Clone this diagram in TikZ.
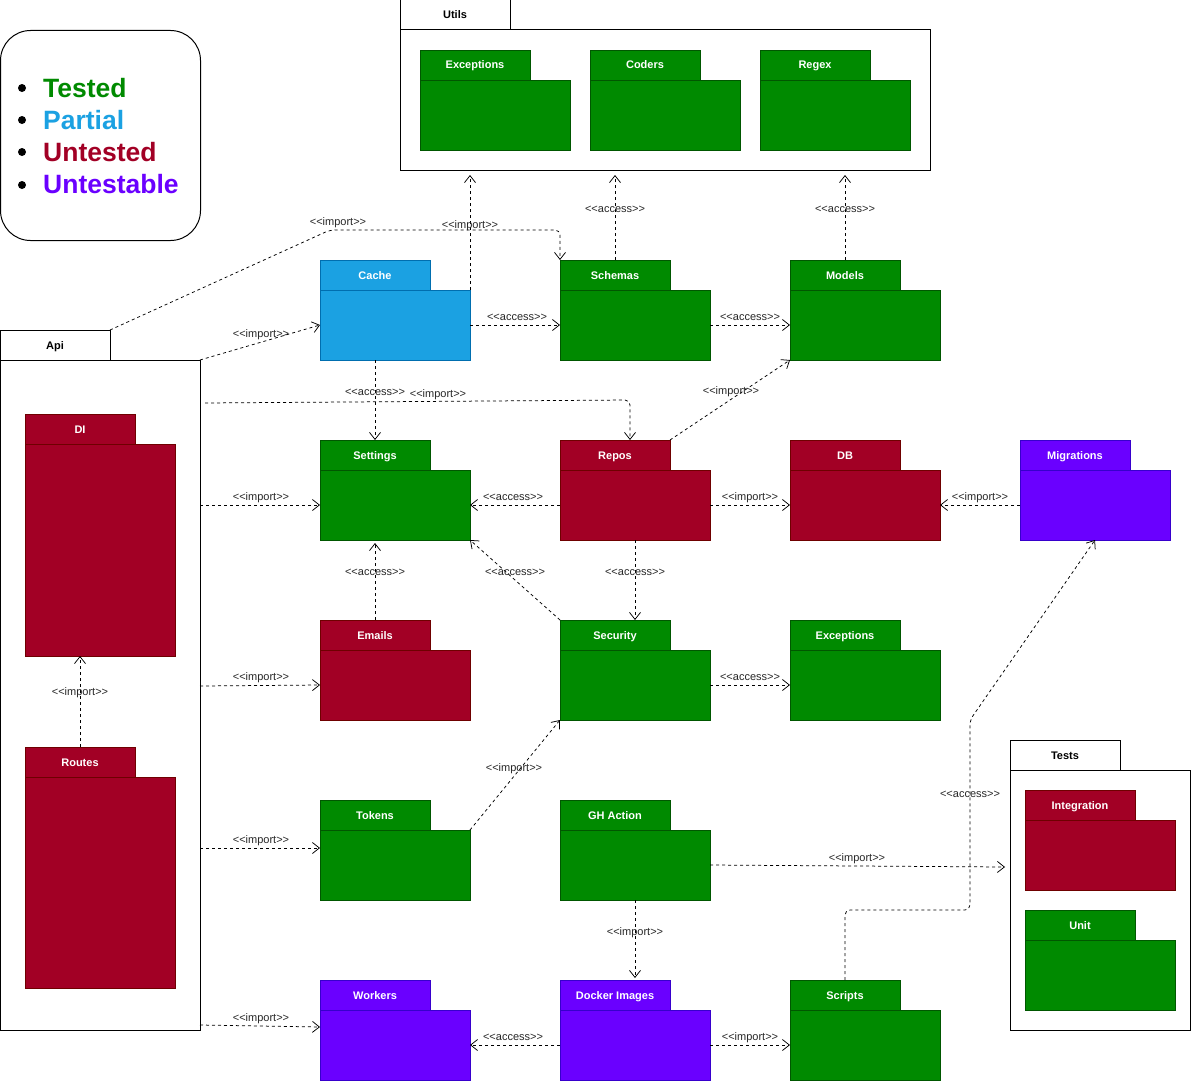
\documentclass[tikz,border=0pt]{standalone}
\usepackage{fontspec}
\setmainfont{Liberation Sans}
\usetikzlibrary{arrows.meta,calc}
\definecolor{gfill}{HTML}{008A00}\definecolor{gline}{HTML}{005700}
\definecolor{rfill}{HTML}{A20025}\definecolor{rline}{HTML}{6F0000}
\definecolor{bfill}{HTML}{1BA1E2}\definecolor{bline}{HTML}{006EAF}
\definecolor{pfill}{HTML}{6A00FF}\definecolor{pline}{HTML}{3700CC}
\tikzset{
  pkgbase/.style={anchor=north west, inner sep=0pt, outer sep=0pt, line width=0.8pt},
  pkgtab/.style={pkgbase, minimum width=110pt, minimum height=30pt, text height=8pt, text depth=0pt, font=\bfseries\fontsize{11}{13}\selectfont},
  pkgbody/.style={pkgbase},
  tested/.style={draw=gline, fill=gfill, text=white},
  partial/.style={draw=bline, fill=bfill, text=white},
  untested/.style={draw=rline, fill=rfill, text=white},
  untestable/.style={draw=pline, fill=pfill, text=white},
  container/.style={draw=black, fill=white, text=black, line width=1pt},
  dep/.style={draw=black, line width=0.75pt, dash pattern=on 3pt off 3pt,
    -{Straight Barb[length=7pt,width=11pt]}, rounded corners=5pt},
  lbl/.style={font=\fontsize{11}{13}\selectfont, text=black!85, inner sep=0pt, yshift=-1.5pt},
  legtxt/.style={anchor=base west, inner sep=0pt, font=\bfseries\fontsize{26.5}{32}\selectfont}
}
\newcommand{\pkg}[7]{%
  \node[pkgtab,#1] (#2T) at (#3,#4) {#5};
  \node[pkgbody,#1,minimum width=#6pt,minimum height=#7pt] (#2) at (#3,#4+30) {};
}
\newcommand{\imptxt}{<{}<import>{}>}
\newcommand{\acctxt}{<{}<access>{}>}
\begin{document}
\begin{tikzpicture}[x=1pt,y=-1pt]
\useasboundingbox (0,0) rectangle (1191,1081);
% legend
\node[draw=black, line width=1pt, rounded corners=30pt, anchor=north west,
  minimum width=200pt, minimum height=210pt, inner sep=0pt] (legend) at (0,30) {};
\fill (22,88) circle (4pt);
\fill (22,120) circle (4pt);
\fill (22,152) circle (4pt);
\fill (22,185) circle (4pt);
\node[legtxt, text=gfill] (lgT) at (43,97) {Tested};
\node[legtxt, text=bfill] (lgP) at (43,129) {Partial};
\node[legtxt, text=rfill] (lgU) at (43,161) {Untested};
\node[legtxt, text=pfill] (lgX) at (43,193) {Untestable};
% packages
\pkg{container}{utils}{400}{0}{Utils}{530}{140}
\pkg{tested}{exc}{420}{50}{Exceptions}{150}{70}
\pkg{tested}{coders}{590}{50}{Coders}{150}{70}
\pkg{tested}{regex}{760}{50}{Regex}{150}{70}
\pkg{container}{api}{0}{330}{Api}{200}{670}
\pkg{untested}{di}{25}{414}{DI}{150}{212}
\pkg{untested}{routes}{25}{747}{Routes}{150}{211}
\pkg{partial}{cache}{320}{260}{Cache}{150}{70}
\pkg{tested}{schemas}{560}{260}{Schemas}{150}{70}
\pkg{tested}{models}{790}{260}{Models}{150}{70}
\pkg{tested}{settings}{320}{440}{Settings}{150}{70}
\pkg{untested}{repos}{560}{440}{Repos}{150}{70}
\pkg{untested}{db}{790}{440}{DB}{150}{70}
\pkg{untestable}{migr}{1020}{440}{Migrations}{150}{70}
\pkg{untested}{emails}{320}{620}{Emails}{150}{70}
\pkg{tested}{security}{560}{620}{Security}{150}{70}
\pkg{tested}{excb}{790}{620}{Exceptions}{150}{70}
\pkg{tested}{tokens}{320}{800}{Tokens}{150}{70}
\pkg{tested}{gha}{560}{800}{GH Action}{150}{70}
\pkg{container}{tests}{1010}{740}{Tests}{180}{260}
\pkg{untested}{integ}{1025}{790}{Integration}{150}{70}
\pkg{tested}{unit}{1025}{910}{Unit}{150}{70}
\pkg{untestable}{workers}{320}{980}{Workers}{150}{70}
\pkg{untestable}{docker}{560}{980}{Docker Images}{150}{70}
\pkg{tested}{scripts}{790}{980}{Scripts}{150}{70}
\coordinate (testsIn) at (1005,867);
% connectors
\draw[dep] (apiT.north east) -- (330,230) -- (560,230) -- (schemasT.north west);
\draw[dep] (api.north east) -- (cache.west);
\draw[dep] (cache.north east) -- ([xshift=-195pt,yshift=-5pt]utils.south);
\draw[dep] (cache.east) -- (schemas.west);
\draw[dep] (schemasT.north) -- ([xshift=-50pt,yshift=-5pt]utils.south);
\draw[dep] (modelsT.north) -- ([xshift=180pt,yshift=-5pt]utils.south);
\draw[dep] (schemas.east) -- (models.west);
\draw[dep] ([xshift=-20pt]cache.south) -- (settingsT.north);
\draw[dep] ([xshift=5pt,yshift=292pt]api.east) -- (630,400) -- ([xshift=15pt]reposT.north);
\draw[dep] (reposT.north east) -- (models.south west);
\draw[dep] ([yshift=190pt]api.east) -- (settings.west);
\draw[dep] (repos.west) -- (settings.east);
\draw[dep] (repos.east) -- (db.west);
\draw[dep] (migr.west) -- (db.east);
\draw[dep] (emailsT.north) -- ([xshift=-20pt,yshift=-3pt]settings.south);
\draw[dep] (securityT.north west) -- (settings.south east);
\draw[dep] (repos.south) -- ([xshift=20pt]securityT.north);
\draw[dep] (security.east) -- (excb.west);
\draw[dep] ([yshift=9pt]api.east) -- (emails.west);
\draw[dep] (routesT.north) -- ([xshift=-20pt]di.south);
\draw[dep] (tokens.north east) -- (security.south west);
\draw[dep] ([yshift=-153pt]api.east) -- ([yshift=17pt]tokens.west);
\draw[dep] (gha.east) -- (testsIn);
\draw[dep] (gha.south) -- ([xshift=20pt,yshift=2pt]dockerT.north);
\draw[dep] ([yshift=5pt]api.south east) -- ([yshift=18pt]workers.west);
\draw[dep] (docker.west) -- (workers.east);
\draw[dep] (docker.east) -- (scripts.west);
\draw[dep] (scriptsT.north) -- (845,910) -- (970,910) -- (970,720) -- (migr.south);
% labels
\node[lbl] (t1) at (338,221) {\imptxt};
\node[lbl] (t2) at (470,224) {\imptxt};
\node[lbl] (t3) at (615,208) {\acctxt};
\node[lbl] (t4) at (845,208) {\acctxt};
\node[lbl] (t5) at (261,333) {\imptxt};
\node[lbl] (t6) at (517,316) {\acctxt};
\node[lbl] (t7) at (750,316) {\acctxt};
\node[lbl] (t8) at (375,391) {\acctxt};
\node[lbl] (t9) at (438,393) {\imptxt};
\node[lbl] (t10) at (731,390) {\imptxt};
\node[lbl] (t11) at (261,496) {\imptxt};
\node[lbl] (t12) at (513,496) {\acctxt};
\node[lbl] (t13) at (750,496) {\imptxt};
\node[lbl] (t14) at (980,496) {\imptxt};
\node[lbl] (t15) at (375,571) {\acctxt};
\node[lbl] (t16) at (515,571) {\acctxt};
\node[lbl] (t17) at (635,571) {\acctxt};
\node[lbl] (t18) at (261,676) {\imptxt};
\node[lbl] (t19) at (750,676) {\acctxt};
\node[lbl] (t20) at (80,691) {\imptxt};
\node[lbl] (t21) at (514,767) {\imptxt};
\node[lbl] (t22) at (261,839) {\imptxt};
\node[lbl] (t23) at (857,857) {\imptxt};
\node[lbl] (t24) at (970,793) {\acctxt};
\node[lbl] (t25) at (635,931) {\imptxt};
\node[lbl] (t26) at (261,1017) {\imptxt};
\node[lbl] (t27) at (513,1036) {\acctxt};
\node[lbl] (t28) at (750,1036) {\imptxt};
\end{tikzpicture}
\end{document}
